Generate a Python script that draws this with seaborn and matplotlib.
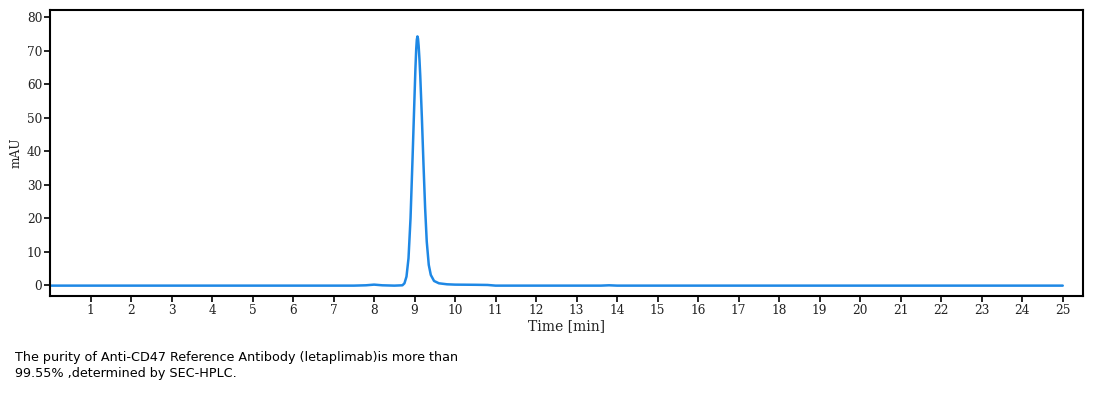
import matplotlib
matplotlib.use("Agg")
import matplotlib.pyplot as plt
import seaborn as sns
import pandas as pd

# Chromatogram trace (time in min, signal in mAU)
time_min = [0.0, 7.5, 7.8, 8.0, 8.2, 8.5, 8.70, 8.75, 8.80, 8.85, 8.90, 8.95, 9.00,
            9.02, 9.04, 9.055, 9.07, 9.085, 9.10, 9.12, 9.14, 9.18, 9.22, 9.26,
            9.30, 9.35, 9.40, 9.48, 9.60, 9.80, 10.0, 10.5, 10.8, 11.0, 13.6,
            13.8, 14.0, 25.0]
signal_mau = [-0.2, -0.2, -0.1, 0.1, -0.1, -0.2, -0.1, 0.5, 2.5, 8.0, 20.0, 38.0, 57.0,
              64.5, 70.5, 73.3, 74.3, 73.6, 71.5, 67.5, 62.5, 50.0, 36.0, 23.0,
              13.0, 6.0, 3.0, 1.2, 0.5, 0.2, 0.1, 0.05, 0.0, -0.2, -0.2,
              -0.1, -0.2, -0.2]

x_ticks = list(range(1, 26))
y_ticks = list(range(0, 81, 10))
x_label = "Time [min]"
y_label = "mAU"
caption = ("The purity of Anti-CD47 Reference Antibody (letaplimab)is more than\n"
           "99.55% ,determined by SEC-HPLC.")

sns.set_style("ticks")
plt.rcParams["font.family"] = ["DejaVu Serif", "Liberation Serif"]

df = pd.DataFrame({"time": time_min, "signal": signal_mau})

fig = plt.figure(figsize=(11.07, 3.95), dpi=100)
ax = fig.add_axes([50 / 1107, 1 - 296 / 395, (1083 - 50) / 1107, (296 - 10) / 395])
sns.lineplot(data=df, x="time", y="signal", ax=ax, color="#1E88E5", linewidth=1.8,
             estimator=None, sort=False)

ax.set_xlim(0, 25.5)
ax.set_ylim(-3.3, 82.2)
ax.set_xticks(x_ticks)
ax.set_yticks(y_ticks)
ax.set_xticklabels([str(v) for v in x_ticks])
ax.set_yticklabels([str(v) for v in y_ticks])
ax.tick_params(axis="both", direction="out", length=4, width=1.2, color="black",
               labelsize=8.7, pad=1.5, labelcolor="#222222")
for s in ax.spines.values():
    s.set_linewidth(1.5)
    s.set_color("black")
ax.set_xlabel(x_label, fontsize=10, labelpad=2, color="#222222")
ax.set_ylabel(y_label, fontsize=8.7, labelpad=3, color="#222222")

fig.text(15 / 1107, 1 - 351 / 395, caption, fontsize=9.2, family="DejaVu Sans",
         ha="left", va="top", linespacing=1.3, color="black")

fig.savefig("out.png", dpi=100)
